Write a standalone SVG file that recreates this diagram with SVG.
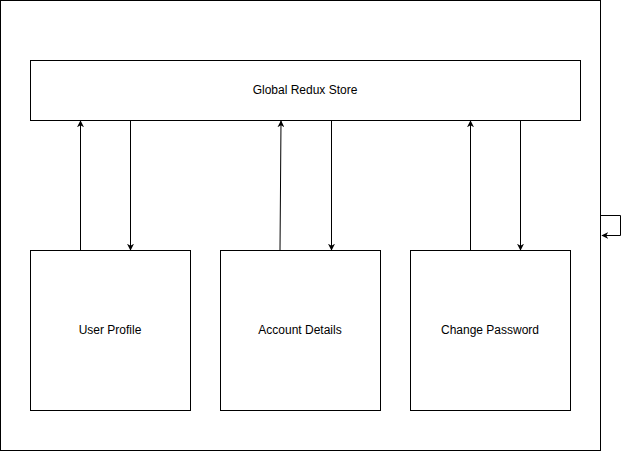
<svg xmlns="http://www.w3.org/2000/svg" width="629" height="451" viewBox="0 0 629 451">
<style>
.box{fill:#fff;stroke:#000;stroke-width:1}
.lbl{font-family:"Liberation Sans",Arial,sans-serif;font-size:12px;fill:#000;text-anchor:middle;dominant-baseline:central}
.edge{fill:none;stroke:#000;stroke-width:1}
</style>
<defs>
<marker id="arr" viewBox="0 0 10 10" refX="9" refY="5" markerWidth="7" markerHeight="7" markerUnits="userSpaceOnUse" orient="auto">
<path d="M0,0 L10,5 L0,10 L3,5 Z" fill="#000"/>
</marker>
</defs>
<rect width="629" height="451" fill="#fff"/>
<g id="container"><rect class="box" x="0.5" y="0.5" width="600" height="450"/></g>
<g id="store"><rect class="box" x="30.5" y="60.5" width="550" height="60"/><text class="lbl" x="305" y="90">Global Redux Store</text></g>
<g id="userProfile"><rect class="box" x="30.5" y="250.5" width="160" height="160"/><text class="lbl" x="110" y="330">User Profile</text></g>
<g id="accountDetails"><rect class="box" x="220.5" y="250.5" width="160" height="160"/><text class="lbl" x="300" y="330">Account Details</text></g>
<g id="changePassword"><rect class="box" x="410.5" y="250.5" width="160" height="160"/><text class="lbl" x="490" y="330">Change Password</text></g>
<g id="connectors">
<path class="edge" d="M80.5,250 L80.5,121" marker-end="url(#arr)"/>
<path class="edge" d="M130.5,121 L130.5,250" marker-end="url(#arr)"/>
<path class="edge" d="M280,250 L281,121" marker-end="url(#arr)"/>
<path class="edge" d="M331.5,121 L331.5,250" marker-end="url(#arr)"/>
<path class="edge" d="M470.5,250 L470.5,121" marker-end="url(#arr)"/>
<path class="edge" d="M520.5,121 L520.5,250" marker-end="url(#arr)"/>
<path class="edge" d="M601,215.5 L620.5,215.5 L620.5,235.5 L602,235.5" marker-end="url(#arr)"/>
</g>
</svg>
